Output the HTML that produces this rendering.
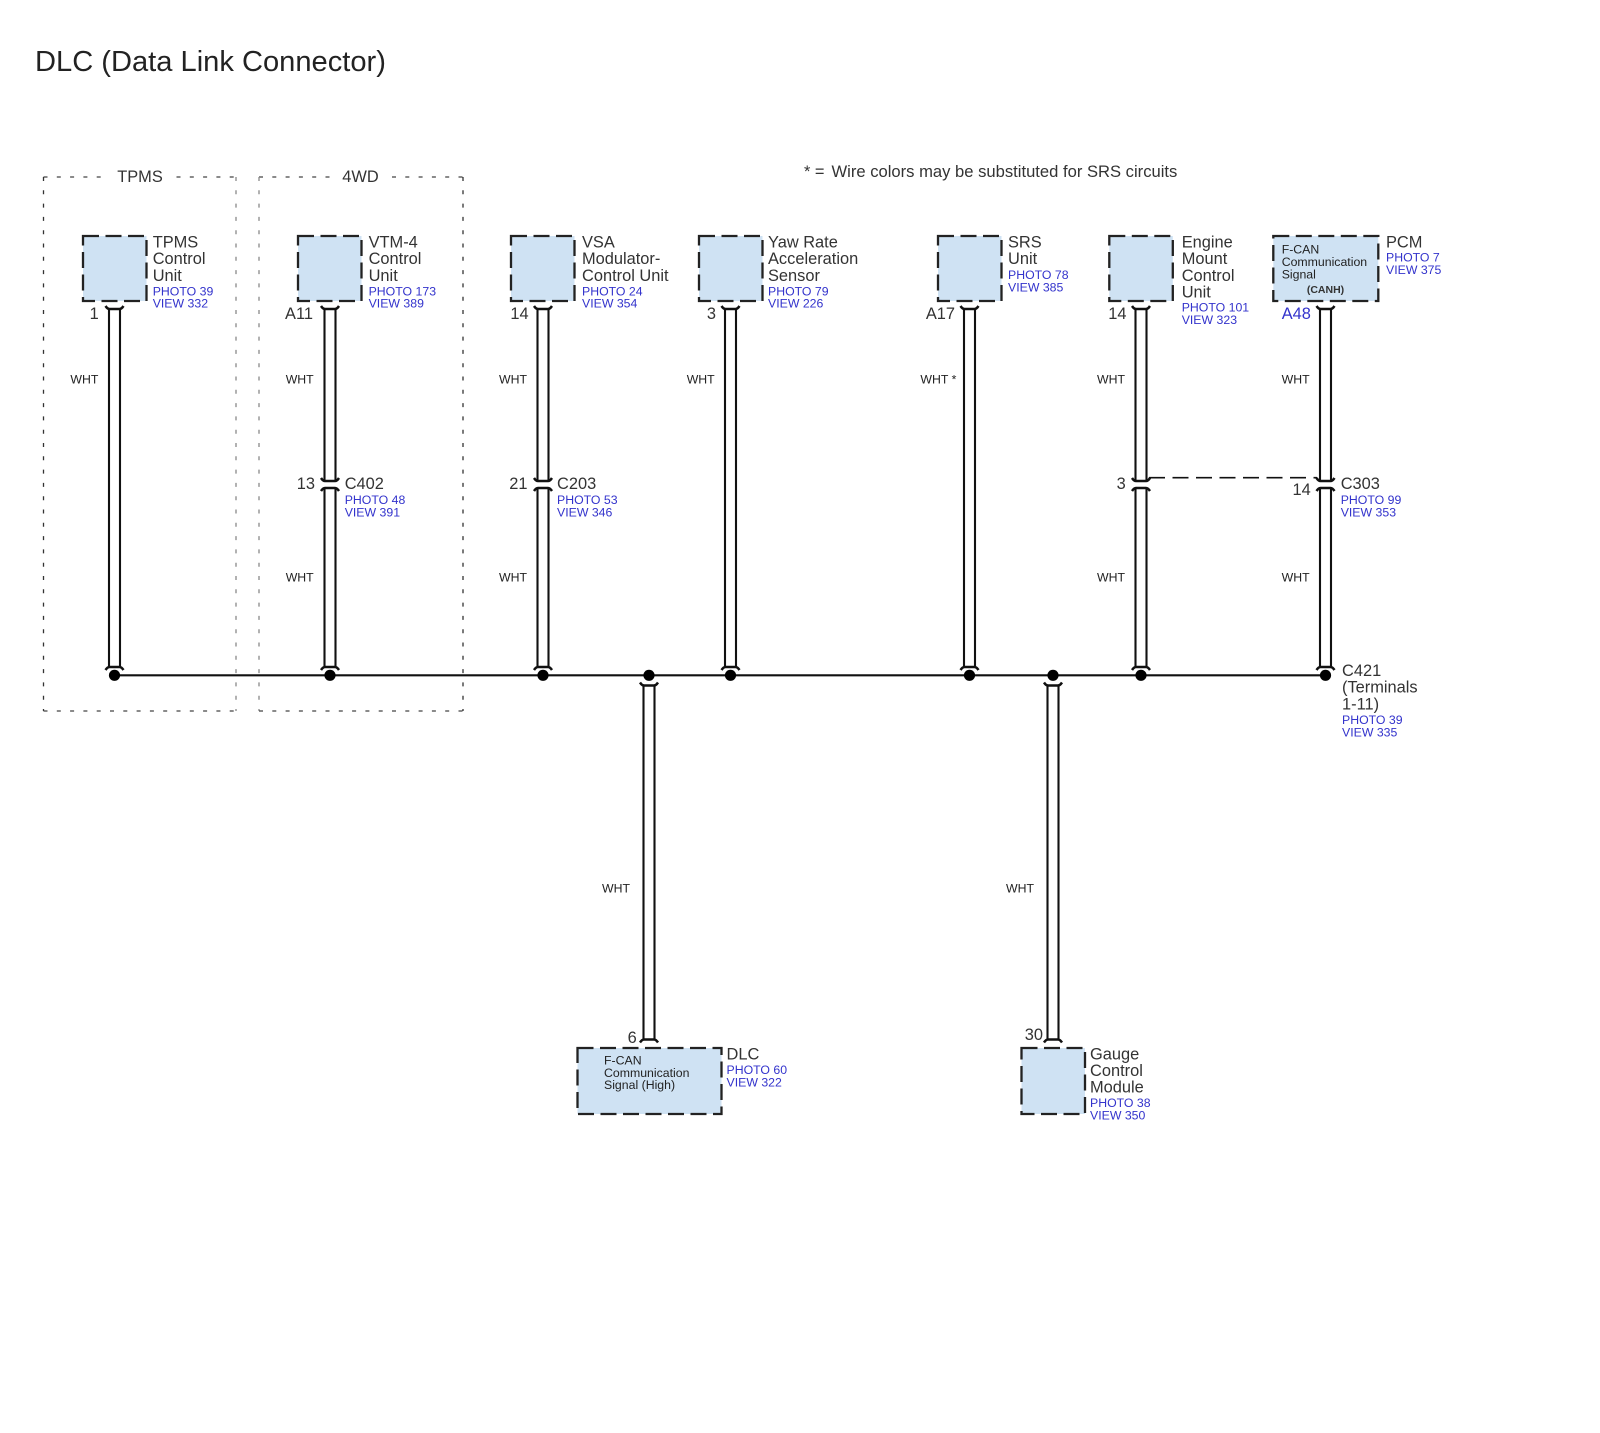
<!DOCTYPE html>
<html><head><meta charset="utf-8"><title>DLC (Data Link Connector)</title>
<style>
html,body{margin:0;padding:0;background:#fff;width:1600px;height:1433px;overflow:hidden}
svg{display:block;filter:blur(.35px)}
text{font-family:"Liberation Sans",sans-serif;fill:#333}
.t{font-size:29.1px;fill:#222}
.m{font-size:16.4px}
.b{font-size:12.3px;fill:#3333cc}
.w{font-size:12.3px;fill:#222}
.e{text-anchor:end}
.box{fill:#cfe2f3;stroke:#222;stroke-width:2.3;stroke-dasharray:16 6.5}
.wire{fill:none;stroke:#111;stroke-width:2.1}
.cap{fill:none;stroke:#111;stroke-width:2.5}
</style></head><body>
<svg width="1600" height="1433" viewBox="0 0 1600 1433" xmlns="http://www.w3.org/2000/svg">
<defs>
<path id="u" class="cap" d="M-9-3Q-7 0-5 0H5Q7 0 9-3"/>
<path id="n" class="cap" d="M-9 3Q-7 0-5 0H5Q7 0 9 3"/>
</defs>
<text class="t" x="35" y="71">DLC (Data Link Connector)</text>

<!-- option frames -->
<g fill="none" stroke-width="1.3" stroke-dasharray="4 9.3">
<path d="M43.5 177H236" stroke="#444"/><path d="M43.5 177V711" stroke="#333"/><path d="M43.5 711H236" stroke="#444"/><path d="M236 177V711" stroke="#888"/>
<path d="M259 177H463" stroke="#444"/><path d="M259 177V711" stroke="#888"/><path d="M259 711H463" stroke="#444"/><path d="M463 177V711" stroke="#333"/>
</g>
<rect x="110" y="168" width="60" height="18" fill="#fff"/>
<rect x="336" y="168" width="50" height="18" fill="#fff"/>
<text class="m" x="140" y="182" text-anchor="middle">TPMS</text>
<text class="m" x="360.5" y="182" text-anchor="middle">4WD</text>
<text class="m" x="804" y="177">* =</text>
<text class="m" x="831.5" y="177" style="font-size:16.6px">Wire colors may be substituted for SRS circuits</text>

<!-- boxes -->
<rect class="box" x="83" y="236" width="63.5" height="65"/>
<rect class="box" x="298" y="236" width="63.5" height="65"/>
<rect class="box" x="511" y="236" width="63.5" height="65"/>
<rect class="box" x="699" y="236" width="63.5" height="65"/>
<rect class="box" x="938" y="236" width="63.5" height="65"/>
<rect class="box" x="1109.3" y="236" width="63.5" height="65"/>
<rect class="box" x="1273.3" y="236" width="105" height="65"/>
<rect class="box" x="577.5" y="1048" width="144" height="66"/>
<rect class="box" x="1021.5" y="1048" width="63.5" height="66"/>

<!-- wires -->
<g class="wire">
<path d="M109 309V667M120 309V667"/>
<path d="M324.5 309V481M335.5 309V481M324.5 488V667M335.5 488V667"/>
<path d="M537.5 309V481M548.5 309V481M537.5 488V667M548.5 488V667"/>
<path d="M725 309V667M736 309V667"/>
<path d="M964 309V667M975 309V667"/>
<path d="M1135.5 309V481M1146.5 309V481M1135.5 488V667M1146.5 488V667"/>
<path d="M1320 309V481M1331 309V481M1320 488V667M1331 488V667"/>
<path d="M643.5 685.5V1039.5M654.5 685.5V1039.5"/>
<path d="M1047.5 685.5V1039.5M1058.5 685.5V1039.5"/>
</g>
<path d="M1149 477.7H1317" fill="none" stroke="#111" stroke-width="1.6" stroke-dasharray="16 7.5"/>

<!-- connector caps -->
<use href="#u" x="114.5" y="309"/><use href="#n" x="114.5" y="667"/>
<use href="#u" x="330" y="309"/><use href="#u" x="330" y="481"/><use href="#n" x="330" y="488"/><use href="#n" x="330" y="667"/>
<use href="#u" x="543" y="309"/><use href="#u" x="543" y="481"/><use href="#n" x="543" y="488"/><use href="#n" x="543" y="667"/>
<use href="#u" x="730.5" y="309"/><use href="#n" x="730.5" y="667"/>
<use href="#u" x="969.5" y="309"/><use href="#n" x="969.5" y="667"/>
<use href="#u" x="1141" y="309"/><use href="#u" x="1141" y="481"/><use href="#n" x="1141" y="488"/><use href="#n" x="1141" y="667"/>
<use href="#u" x="1325.5" y="309"/><use href="#u" x="1325.5" y="481"/><use href="#n" x="1325.5" y="488"/><use href="#n" x="1325.5" y="667"/>
<use href="#u" x="649" y="685.5"/><use href="#n" x="649" y="1039.5"/>
<use href="#u" x="1053" y="685.5"/><use href="#n" x="1053" y="1039.5"/>

<!-- bus -->
<path d="M114.5 675.3H1325.5" stroke="#111" stroke-width="2.1" fill="none"/>
<g fill="#000">
<circle cx="114.5" cy="675.3" r="5.6"/><circle cx="330" cy="675.3" r="5.6"/><circle cx="543" cy="675.3" r="5.6"/><circle cx="649" cy="675.3" r="5.6"/><circle cx="730.5" cy="675.3" r="5.6"/><circle cx="969.5" cy="675.3" r="5.6"/><circle cx="1053" cy="675.3" r="5.6"/><circle cx="1141" cy="675.3" r="5.6"/><circle cx="1325.5" cy="675.3" r="5.6"/>
</g>

<!-- component labels -->
<text class="m" x="152.7" y="247.3">TPMS</text><text class="m" x="152.7" y="264">Control</text><text class="m" x="152.7" y="281">Unit</text>
<text class="b" x="152.7" y="295.3">PHOTO 39</text><text class="b" x="152.7" y="307.7">VIEW 332</text>

<text class="m" x="368.6" y="247.3">VTM-4</text><text class="m" x="368.6" y="264">Control</text><text class="m" x="368.6" y="281">Unit</text>
<text class="b" x="368.6" y="295.3">PHOTO 173</text><text class="b" x="368.6" y="307.7">VIEW 389</text>

<text class="m" x="582" y="247.3">VSA</text><text class="m" x="582" y="264">Modulator-</text><text class="m" x="582" y="281">Control Unit</text>
<text class="b" x="582" y="295.3">PHOTO 24</text><text class="b" x="582" y="307.7">VIEW 354</text>

<text class="m" x="768" y="247.3">Yaw Rate</text><text class="m" x="768" y="264">Acceleration</text><text class="m" x="768" y="281">Sensor</text>
<text class="b" x="768" y="295.3">PHOTO 79</text><text class="b" x="768" y="307.7">VIEW 226</text>

<text class="m" x="1008" y="247.3">SRS</text><text class="m" x="1008" y="264">Unit</text>
<text class="b" x="1008" y="279">PHOTO 78</text><text class="b" x="1008" y="291.5">VIEW 385</text>

<text class="m" x="1181.7" y="247.3">Engine</text><text class="m" x="1181.7" y="264">Mount</text><text class="m" x="1181.7" y="281">Control</text><text class="m" x="1181.7" y="297.5">Unit</text>
<text class="b" x="1181.7" y="311.7">PHOTO 101</text><text class="b" x="1181.7" y="324">VIEW 323</text>

<text class="m" x="1386" y="247.3">PCM</text>
<text class="b" x="1386" y="261.7">PHOTO 7</text><text class="b" x="1386" y="274">VIEW 375</text>
<text class="w" x="1281.7" y="253.3">F-CAN</text><text class="w" x="1281.7" y="266">Communication</text><text class="w" x="1281.7" y="278.5">Signal</text>
<text x="1325.5" y="293" text-anchor="middle" font-size="10.5" font-weight="bold" fill="#222">(CANH)</text>

<text class="m" x="726.5" y="1059.5">DLC</text>
<text class="b" x="726.5" y="1074">PHOTO 60</text><text class="b" x="726.5" y="1086.5">VIEW 322</text>
<text class="w" x="604" y="1064.5">F-CAN</text><text class="w" x="604" y="1077">Communication</text><text class="w" x="604" y="1089">Signal (High)</text>

<text class="m" x="1090" y="1059.5">Gauge</text><text class="m" x="1090" y="1076">Control</text><text class="m" x="1090" y="1092.5">Module</text>
<text class="b" x="1090" y="1107">PHOTO 38</text><text class="b" x="1090" y="1119.5">VIEW 350</text>

<!-- inline connectors -->
<text class="m" x="344.7" y="489">C402</text><text class="b" x="344.7" y="504">PHOTO 48</text><text class="b" x="344.7" y="516.5">VIEW 391</text>
<text class="m" x="557" y="489">C203</text><text class="b" x="557" y="504">PHOTO 53</text><text class="b" x="557" y="516.5">VIEW 346</text>
<text class="m" x="1340.7" y="489">C303</text><text class="b" x="1340.7" y="504">PHOTO 99</text><text class="b" x="1340.7" y="516.5">VIEW 353</text>
<text class="m" x="1342" y="676">C421</text><text class="m" x="1342" y="692.7">(Terminals</text><text class="m" x="1342" y="709.5">1-11)</text>
<text class="b" x="1342" y="724">PHOTO 39</text><text class="b" x="1342" y="736.7">VIEW 335</text>

<!-- pin numbers -->
<g class="m">
<text class="m e" x="98.7" y="319">1</text>
<text class="m e" x="313" y="319">A11</text>
<text class="m e" x="528.6" y="319">14</text>
<text class="m e" x="716" y="319">3</text>
<text class="m e" x="955" y="319">A17</text>
<text class="m e" x="1126.5" y="319">14</text>
<text class="m" x="1281.7" y="319" style="fill:#3333cc">A48</text>
<text class="m e" x="315" y="489">13</text>
<text class="m e" x="527.5" y="489">21</text>
<text class="m e" x="1125.7" y="489">3</text>
<text class="m e" x="1310.7" y="495">14</text>
<text class="m e" x="636.7" y="1043">6</text>
<text class="m e" x="1043" y="1040">30</text>
</g>

<!-- wire colours -->
<text class="w" x="70.4" y="383.3">WHT</text>
<text class="w" x="285.7" y="383.3">WHT</text><text class="w" x="285.7" y="581.5">WHT</text>
<text class="w" x="499" y="383.3">WHT</text><text class="w" x="499" y="581.5">WHT</text>
<text class="w" x="686.7" y="383.3">WHT</text>
<text class="w" x="920.4" y="383.3">WHT *</text>
<text class="w" x="1097" y="383.3">WHT</text><text class="w" x="1097" y="581.5">WHT</text>
<text class="w" x="1281.6" y="383.3">WHT</text><text class="w" x="1281.6" y="581.5">WHT</text>
<text class="w" x="602" y="892.5">WHT</text>
<text class="w" x="1006" y="892.5">WHT</text>
</svg>
</body></html>
